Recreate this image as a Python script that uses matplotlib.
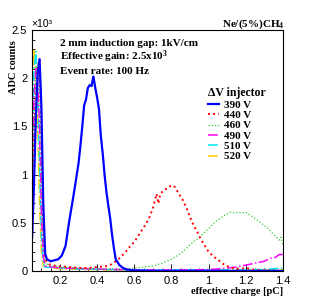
import matplotlib
matplotlib.use("Agg")
import matplotlib.pyplot as plt
from matplotlib.ticker import MultipleLocator

# ---- data (counts in units of 10^3) ----
x_390 = [0.05, 0.06, 0.07, 0.08, 0.09, 0.10, 0.11, 0.12, 0.13, 0.15, 0.17, 0.19,
         0.21, 0.23, 0.25, 0.27, 0.28, 0.30, 0.31, 0.32, 0.33, 0.34, 0.35, 0.36,
         0.37, 0.38, 0.39, 0.40, 0.41, 0.42, 0.43, 0.44, 0.45, 0.46, 0.47, 0.48,
         0.49, 0.50, 0.52, 0.54, 0.56, 0.60, 0.70, 1.40]
y_390 = [0.35, 0.9, 1.6, 2.05, 2.2, 1.7, 0.7, 0.18, 0.12, 0.10, 0.11, 0.12,
         0.16, 0.26, 0.52, 0.75, 0.87, 1.12, 1.3, 1.5, 1.72, 1.78, 1.9, 1.93,
         1.92, 2.02, 1.9, 1.8, 1.68, 1.4, 1.22, 1.0, 0.82, 0.68, 0.55, 0.38,
         0.24, 0.12, 0.06, 0.03, 0.015, 0.005, 0.0, 0.0]

x_440 = [0.05, 0.06, 0.07, 0.08, 0.09, 0.10, 0.11, 0.12, 0.14, 0.18, 0.25, 0.30,
         0.35, 0.40, 0.45, 0.48, 0.50, 0.52, 0.55, 0.58, 0.60, 0.62, 0.64, 0.66,
         0.68, 0.70, 0.72, 0.73, 0.74, 0.76, 0.78, 0.80, 0.82, 0.84, 0.86, 0.88,
         0.90, 0.92, 0.94, 0.96, 0.98, 1.00, 1.02, 1.04, 1.06, 1.08, 1.10, 1.13,
         1.17, 1.20, 1.25, 1.30, 1.40]
y_440 = [0.6, 1.2, 1.8, 2.1, 2.2, 1.5, 0.5, 0.12, 0.07, 0.05, 0.04, 0.03,
         0.03, 0.04, 0.05, 0.07, 0.10, 0.13, 0.19, 0.26, 0.30, 0.36, 0.42, 0.48,
         0.55, 0.65, 0.80, 0.70, 0.80, 0.84, 0.86, 0.89, 0.87, 0.80, 0.74, 0.66,
         0.56, 0.47, 0.40, 0.32, 0.26, 0.20, 0.16, 0.13, 0.10, 0.07, 0.05, 0.03,
         0.02, 0.03, 0.01, 0.005, 0.0]

x_460 = [0.05, 0.06, 0.07, 0.08, 0.09, 0.10, 0.11, 0.12, 0.15, 0.20, 0.30, 0.40,
         0.50, 0.55, 0.60, 0.65, 0.70, 0.75, 0.80, 0.85, 0.90, 0.95, 1.00, 1.03,
         1.06, 1.08, 1.10, 1.12, 1.14, 1.16, 1.18, 1.20, 1.22, 1.24, 1.26, 1.28,
         1.30, 1.32, 1.34, 1.36, 1.38, 1.39, 1.40]
y_460 = [0.8, 1.5, 2.0, 2.15, 1.9, 1.0, 0.3, 0.08, 0.05, 0.04, 0.03, 0.02,
         0.02, 0.02, 0.03, 0.04, 0.05, 0.08, 0.12, 0.18, 0.27, 0.35, 0.44, 0.50,
         0.54, 0.57, 0.59, 0.61, 0.60, 0.61, 0.60, 0.61, 0.58, 0.56, 0.53, 0.50,
         0.47, 0.44, 0.40, 0.36, 0.32, 0.35, 0.27]

x_490 = [0.05, 0.06, 0.07, 0.08, 0.09, 0.10, 0.11, 0.12, 0.20, 0.40, 0.60, 0.80,
         0.90, 1.00, 1.05, 1.10, 1.15, 1.20, 1.25, 1.30, 1.33, 1.36, 1.38, 1.40]
y_490 = [1.0, 1.8, 2.1, 2.0, 1.5, 0.6, 0.15, 0.05, 0.03, 0.02, 0.01, 0.01,
         0.01, 0.015, 0.02, 0.03, 0.04, 0.06, 0.08, 0.10, 0.13, 0.14, 0.17, 0.17]

x_510 = [0.05, 0.06, 0.07, 0.08, 0.09, 0.10, 0.11, 0.12, 0.30, 0.60, 1.00, 1.20,
         1.30, 1.40]
y_510 = [1.3, 2.1, 2.28, 1.9, 1.1, 0.35, 0.08, 0.04, 0.02, 0.01, 0.01, 0.01,
         0.015, 0.03]

x_520 = [0.05, 0.06, 0.07, 0.08, 0.09, 0.10, 0.11, 0.20, 0.50, 1.00, 1.40]
y_520 = [1.8, 2.3, 2.1, 1.5, 0.7, 0.2, 0.05, 0.02, 0.01, 0.005, 0.01]

labels = ["390 V", "440 V", "460 V", "490 V", "510 V", "520 V"]
colors = ["#0000ff", "#ff0000", "#33cc33", "#ff00ff", "#00e5ee", "#ffcc00"]
styles = ["-", ":", ":", "-.", "-.", "-."]
widths = [1.6, 1.4, 0.9, 1.1, 1.1, 1.1]

series = [(x_390, y_390), (x_440, y_440), (x_460, y_460),
          (x_490, y_490), (x_510, y_510), (x_520, y_520)]

serif = "Liberation Serif"
sans = "Liberation Sans"
plt.rcParams["mathtext.fontset"] = "custom"
plt.rcParams["mathtext.rm"] = "Liberation Serif:bold"
plt.rcParams["mathtext.bf"] = "Liberation Serif:bold"
plt.rcParams["mathtext.it"] = "Liberation Serif:bold"

fig = plt.figure(figsize=(3.15, 3.02), dpi=100)
ax = fig.add_axes([0.102, 0.103, 0.796, 0.797])

# draw in reverse so blue ends up on top
for i in reversed(range(len(series))):
    xs, ys = series[i]
    ax.plot(xs, ys, color=colors[i], ls=styles[i], lw=widths[i], label=labels[i])

ax.set_xlim(0.05, 1.4)
ax.set_ylim(0, 2.5)
ax.xaxis.set_major_locator(MultipleLocator(0.2))
ax.xaxis.set_minor_locator(MultipleLocator(0.05))
ax.yaxis.set_major_locator(MultipleLocator(0.5))
ax.yaxis.set_minor_locator(MultipleLocator(0.1))
ax.tick_params(which="both", direction="in", top=False, right=False,
               labelsize=8, width=0.6)
ax.tick_params(which="major", length=5)
ax.tick_params(which="minor", length=2.5)
ax.set_xticklabels([f"{t:g}" for t in ax.get_xticks()], family=sans)
ax.set_yticklabels([f"{t:g}" for t in ax.get_yticks()], family=sans)
for s in ax.spines.values():
    s.set_linewidth(0.8)

ax.set_xlabel("effective charge [pC]", family=serif, weight="bold",
              fontsize=7.5, loc="right", labelpad=1)
ax.set_ylabel("ADC counts", family=serif, weight="bold",
              fontsize=7.5, loc="top")
ax.yaxis.set_label_coords(-0.055, 0.96)
fig.text(0.10, 0.905, "×10³", fontsize=7.5, family=sans, va="bottom")
fig.text(0.905, 0.912, r"Ne/(5%)CH$_4$", family=serif, weight="bold",
         fontsize=8, ha="right", va="baseline")

info = ["2 mm induction gap: 1kV/cm", r"Effective gain: 2.5x10$^3$",
        "Event rate: 100 Hz"]
for k, t in enumerate(info):
    ax.text(0.112, 0.934 - k * 0.058, t, transform=ax.transAxes, family=serif,
            weight="bold", fontsize=8, va="baseline")

handles, labs = ax.get_legend_handles_labels()
order = [labs.index(l) for l in labels]
leg = ax.legend([handles[j] for j in order], labels, title="ΔV injector",
                loc="upper left", bbox_to_anchor=(0.675, 0.79), frameon=False,
                prop={"family": serif, "weight": "bold", "size": 8},
                handlelength=1.0, handletextpad=0.4, labelspacing=0.05,
                borderpad=0.1, alignment="left")
leg.get_title().set_fontfamily(serif)
leg.get_title().set_fontweight("bold")
leg.get_title().set_fontsize(8.5)

fig.savefig("out.png", dpi=100)
